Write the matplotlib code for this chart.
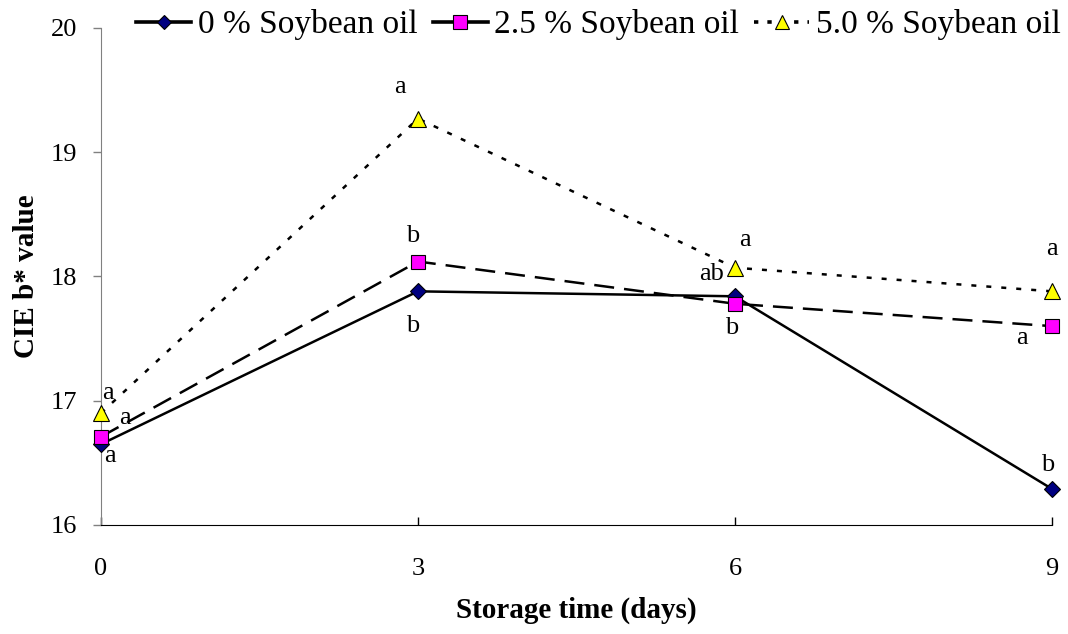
import matplotlib
matplotlib.use("Agg")
import matplotlib.pyplot as plt

days = [0, 3, 6, 9]
oil_0 = [16.65, 17.88, 17.84, 16.29]
oil_25 = [16.71, 18.12, 17.78, 17.60]
oil_50 = [16.90, 19.27, 18.07, 17.88]
labels_0 = ["a", "b", "", "b"]
labels_25 = ["a", "b", "b", "a"]
labels_50 = ["a", "a", "a", "a"]
labels_ab = "ab"

plt.rcParams['font.family'] = ['Liberation Serif', 'DejaVu Serif']

fig = plt.figure(figsize=(10.68, 6.34), dpi=100)
ax = fig.add_axes([0.0946, 0.172, 0.8904, 0.784])

l0, = ax.plot(days, oil_0, color='black', lw=1.8, ls='-', marker='D', ms=8,
              mfc='#000080', mec='black', mew=0.8, clip_on=False, zorder=3)
l1, = ax.plot(days, oil_25, color='black', lw=1.8, ls=(0, (8, 4)), marker='s', ms=10.5,
              mfc='#FF00FF', mec='black', mew=0.8, clip_on=False, zorder=3)
l2, = ax.plot(days, oil_50, color='black', lw=1.8, ls=(0, (2, 4)), marker='^', ms=11,
              mfc='#FFFF00', mec='black', mew=0.8, clip_on=False, zorder=3)

def lab(x, y, t, dx, dy):
    if t:
        ax.annotate(t, (x, y), xytext=(dx, dy), textcoords='offset pixels',
                    ha='center', va='center', fontsize=19, annotation_clip=False)

off0 = [(9, -12), (-5, -35), None, (-4, 24)]
off25 = [(24, 19), (-5, 26), (-3, -24), (-30, -12)]
off50 = [(7, 20), (-18, 32), (10, 28), (0, 42)]
for i, x in enumerate(days):
    if off0[i]:
        lab(x, oil_0[i], labels_0[i], *off0[i])
    lab(x, oil_25[i], labels_25[i], *off25[i])
    lab(x, oil_50[i], labels_50[i], *off50[i])
lab(days[2], oil_50[2], labels_ab, -23, -6)

ax.set_xlim(0, 9)
ax.set_ylim(16, 20)
ax.set_xticks([0, 3, 6, 9])
ax.set_yticks([16, 17, 18, 19, 20])
ax.tick_params(axis='x', direction='in', length=6, labelsize=19, pad=24, width=1)
ax.tick_params(axis='y', direction='out', length=6, labelsize=19, pad=11, width=1, color='#808080')
ax.spines['top'].set_visible(False)
ax.spines['right'].set_visible(False)
ax.spines['left'].set_color('#808080')
ax.spines['bottom'].set_color('black')

ax.set_xlabel('Storage time (days)', fontsize=21, fontweight='bold', labelpad=12)
ax.set_ylabel('CIE b* value', fontsize=21, fontweight='bold', labelpad=8)

leg = fig.legend([l0, l1, l2], ['0 % Soybean oil', '2.5 % Soybean oil', '5.0 % Soybean oil'],
                 loc='upper right', bbox_to_anchor=(1.015, 1.022), ncol=3, frameon=False,
                 fontsize=24, handlelength=1.65, handletextpad=0.2, columnspacing=0.45,
                 markerscale=0.95, borderpad=0.2)
lines = leg.get_lines()
lines[0].set_linewidth(2.6)
lines[1].set_linewidth(2.6)
lines[1].set_linestyle('-')
lines[2].set_linewidth(2.6)
lines[2].set_linestyle((0, (1.2, 2.5)))

fig.savefig('out.png', dpi=100)
